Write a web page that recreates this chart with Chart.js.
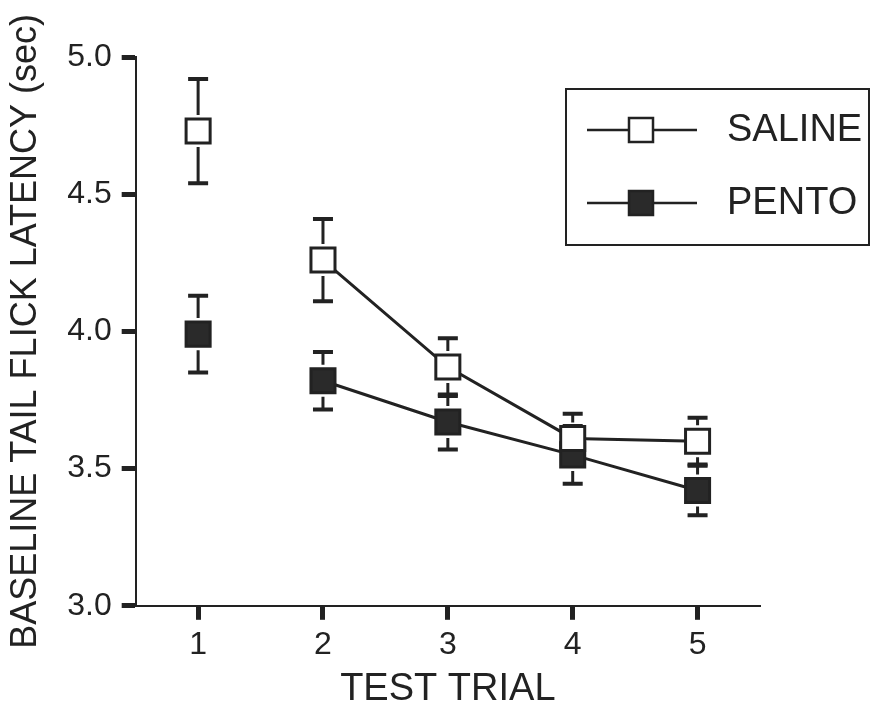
<!DOCTYPE html>
<html>
<head>
<meta charset="utf-8">
<script src="https://cdn.jsdelivr.net/npm/chart.js@4/dist/chart.umd.min.js"></script>
<style>
  html, body { margin: 0; padding: 0; background: #fff; }
  #wrap { width: 875px; height: 710px; }
</style>
</head>
<body>
<div id="wrap"><canvas id="latencyChart" width="875" height="710"></canvas></div>
<script>
const trials = [1, 2, 3, 4, 5];
const salineMean = [4.73, 4.26, 3.87, 3.61, 3.60];
const salineErr = [0.19, 0.15, 0.105, 0.09, 0.085];
const pentoMean = [3.99, 3.82, 3.67, 3.55, 3.42];
const pentoErr = [0.14, 0.105, 0.10, 0.105, 0.09];
const yTicks = [3.0, 3.5, 4.0, 4.5, 5.0];
const seriesNames = ['SALINE', 'PENTO'];

const ink = '#222';
const font = 'Liberation Sans, Arial, sans-serif';

function points(means) {
    return trials.map((t, i) => ({ x: t, y: means[i] }));
}

// trial 1 is not joined to trial 2 in the figure
const skipFirst = {
    borderColor: ctx => ctx.p0DataIndex === 0 ? 'rgba(0,0,0,0)' : ink
};

const errorBars = {
    id: 'errorBars',
    beforeDatasetsDraw(chart) {
        const ctx = chart.ctx;
        const yScale = chart.scales.y;
        const xScale = chart.scales.x;
        chart.data.datasets.forEach(ds => {
            const errs = ds.errors;
            const gap = 17 * Math.SQRT1_2 + 4;
            ds.data.forEach((p, i) => {
                const px = xScale.getPixelForValue(p.x);
                const py = yScale.getPixelForValue(p.y);
                const top = yScale.getPixelForValue(p.y + errs[i]);
                const bot = yScale.getPixelForValue(p.y - errs[i]);
                ctx.save();
                ctx.strokeStyle = ink;
                ctx.lineWidth = 3;
                ctx.beginPath();
                if (py - top > gap) { ctx.moveTo(px, top); ctx.lineTo(px, py - gap); }
                if (bot - py > gap) { ctx.moveTo(px, bot); ctx.lineTo(px, py + gap); }
                ctx.stroke();
                ctx.lineWidth = 4;
                ctx.beginPath();
                ctx.moveTo(px - 10, top); ctx.lineTo(px + 10, top);
                ctx.moveTo(px - 10, bot); ctx.lineTo(px + 10, bot);
                ctx.stroke();
                ctx.restore();
            });
        });
    }
};

const boxLegend = {
    id: 'boxLegend',
    afterDraw(chart) {
        const ctx = chart.ctx;
        ctx.save();
        ctx.strokeStyle = ink;
        ctx.lineWidth = 2;
        ctx.strokeRect(566, 89, 303, 156);
        const rows = [130, 203];
        chart.data.datasets.forEach((ds, i) => {
            const y = rows[i];
            ctx.lineWidth = 2.5;
            ctx.beginPath();
            ctx.moveTo(587, y); ctx.lineTo(697, y);
            ctx.stroke();
            ctx.fillStyle = ds.pointBackgroundColor;
            ctx.fillRect(629, y - 12, 24, 24);
            ctx.lineWidth = 2.5;
            ctx.strokeRect(629, y - 12, 24, 24);
            ctx.fillStyle = ink;
            ctx.font = '38px ' + font;
            ctx.textBaseline = 'middle';
            ctx.fillText(ds.label, 727, y + 1);
        });
        ctx.restore();
    }
};

new Chart(document.getElementById('latencyChart'), {
    type: 'line',
    data: {
        datasets: [{
            label: seriesNames[0],
            data: points(salineMean),
            errors: salineErr,
            borderColor: ink,
            borderWidth: 3,
            pointStyle: 'rect',
            pointRadius: 17,
            pointHoverRadius: 17,
            pointBackgroundColor: '#fff',
            pointBorderColor: ink,
            pointBorderWidth: 3,
            segment: skipFirst
        }, {
            label: seriesNames[1],
            data: points(pentoMean),
            errors: pentoErr,
            borderColor: ink,
            borderWidth: 3,
            pointStyle: 'rect',
            pointRadius: 17,
            pointHoverRadius: 17,
            pointBackgroundColor: '#2a2a2a',
            pointBorderColor: ink,
            pointBorderWidth: 3,
            segment: skipFirst
        }]
    },
    options: {
        responsive: false,
        animation: false,
        events: [],
        layout: { padding: { top: 57, right: 115, left: 4, bottom: 1 } },
        plugins: {
            legend: { display: false },
            tooltip: { enabled: false }
        },
        scales: {
            x: {
                type: 'linear',
                min: 0.5,
                max: 5.5,
                afterBuildTicks: axis => { axis.ticks = trials.map(v => ({ value: v })); },
                grid: { drawOnChartArea: false, tickLength: 14, tickWidth: 5, tickColor: ink },
                border: { color: ink, width: 2 },
                ticks: { color: ink, font: { family: font, size: 32, lineHeight: 1.1 }, padding: 8 },
                title: { display: true, text: 'TEST TRIAL', color: ink, font: { family: font, size: 38, lineHeight: 1.0 }, padding: { top: 0, bottom: 0 } }
            },
            y: {
                min: 3.0,
                max: 5.0,
                afterBuildTicks: axis => { axis.ticks = yTicks.map(v => ({ value: v })); },
                grid: { drawOnChartArea: false, tickLength: 14, tickWidth: 5, tickColor: ink },
                border: { color: ink, width: 2 },
                ticks: { color: ink, font: { family: font, size: 32 }, padding: 10, callback: v => v.toFixed(1) },
                title: { display: true, text: 'BASELINE TAIL FLICK LATENCY (sec)', color: ink, font: { family: font, size: 36 }, padding: { top: 0, bottom: 10 } }
            }
        }
    },
    plugins: [errorBars, boxLegend]
});
</script>
</body>
</html>
